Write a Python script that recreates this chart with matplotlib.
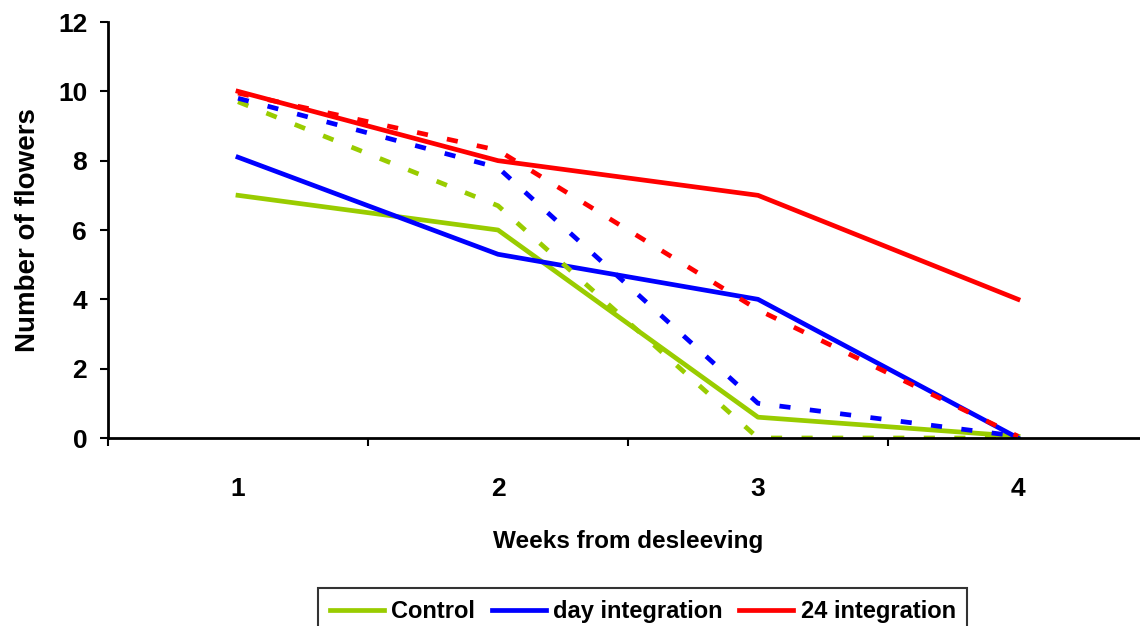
import numpy as np
import matplotlib
matplotlib.use("Agg")
import matplotlib.pyplot as plt

weeks = ["1", "2", "3", "4"]
control = [7.0, 6.0, 0.6, 0.05]
day_int = [8.1, 5.3, 4.0, 0.0]
full_int = [10.0, 8.0, 7.0, 4.0]
control_d = [9.7, 6.7, 0.0, 0.0]
day_int_d = [9.8, 7.8, 1.0, 0.05]
full_int_d = [9.95, 8.3, 3.7, 0.05]

green = "#99CC00"
blue = "#0000FF"
red = "#FF0000"

plt.rcParams["font.family"] = ["Liberation Sans", "DejaVu Sans"]
plt.rcParams["font.weight"] = "bold"
plt.rcParams["lines.scale_dashes"] = False

fig = plt.figure(figsize=(11.4, 6.26), dpi=100)
ax = fig.add_axes([108 / 1140, 1 - 438 / 626, 1040 / 1140, 416 / 626])

x = np.arange(1, len(weeks) + 1)
lw = 3.4
ax.plot(x, control, color=green, lw=lw, label="Control")
ax.plot(x, day_int, color=blue, lw=lw, label="day integration")
ax.plot(x, full_int, color=red, lw=lw, label="24 integration")
dash = (0, (8, 14))
ax.plot(x, control_d, color=green, lw=lw, linestyle=dash)
ax.plot(x, day_int_d, color=blue, lw=lw, linestyle=dash)
ax.plot(x, full_int_d, color=red, lw=lw, linestyle=dash)

ax.set_xlim(0.5, 4.5)
ax.set_ylim(0, 12)
ax.set_yticks(np.arange(0, 13, 2))
ax.set_xticks(np.arange(0.5, 4.6, 1))
ax.set_xticklabels([])
ax.set_xticks(x, minor=True)
ax.set_xticklabels(weeks, minor=True)
ax.tick_params(axis="x", which="minor", length=0, pad=28, labelsize=19)
ax.tick_params(axis="x", which="major", length=6, width=1.5, direction="out")
ax.tick_params(axis="y", length=6, width=1.5, pad=9, labelsize=19)
for s in ["top", "right"]:
    ax.spines[s].set_visible(False)
for s in ["left", "bottom"]:
    ax.spines[s].set_linewidth(2)

ax.set_ylabel("Number of flowers", fontsize=20, fontweight="bold", labelpad=12)
ax.set_xlabel("Weeks from desleeving", fontsize=17.5, fontweight="bold", labelpad=21)

leg = fig.legend(loc="upper left", bbox_to_anchor=(318 / 1140, 1 - 588 / 626), ncol=3,
                 fontsize=17, frameon=True, fancybox=False, edgecolor="black",
                 handlelength=2.3, handletextpad=0.3, columnspacing=0.7, borderpad=0.5,
                 borderaxespad=0)
leg.get_frame().set_linewidth(1.5)

fig.savefig("out.png", dpi=100)
